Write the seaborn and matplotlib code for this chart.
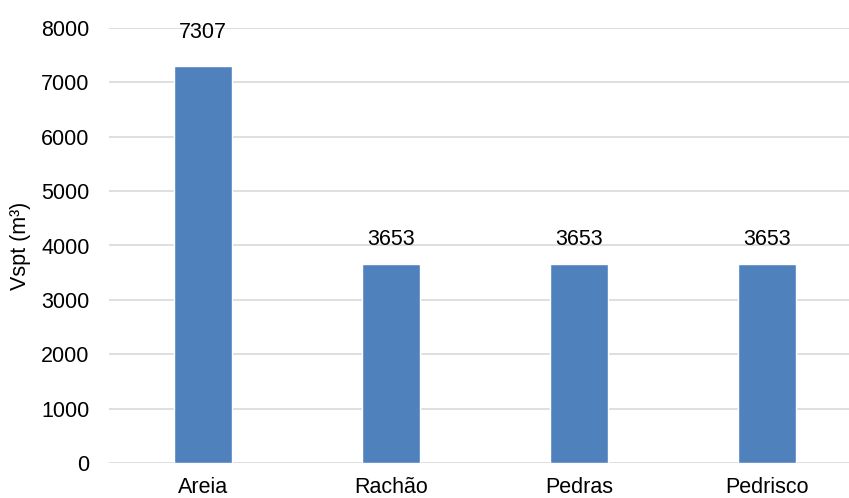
import matplotlib
matplotlib.use("Agg")
import matplotlib.pyplot as plt
import seaborn as sns
import pandas as pd

categories = ["Areia", "Rachão", "Pedras", "Pedrisco"]
values = [7307, 3653, 3653, 3653]
yticks = [0, 1000, 2000, 3000, 4000, 5000, 6000, 7000, 8000]

df = pd.DataFrame({"material": categories, "vspt": values})

sns.set_theme(style="white")
plt.rcParams["font.family"] = ["Liberation Sans", "DejaVu Sans"]

fig = plt.figure(figsize=(8.49, 4.98), dpi=100)
ax = fig.add_axes([109 / 849, 1 - 463 / 498, 752 / 849, 435 / 498])

sns.barplot(data=df, x="material", y="vspt", color="#4F81BD", saturation=1,
            width=0.31, ax=ax, zorder=3)

ax.set_xlim(-0.5, 3.5)
ax.set_ylim(0, 8000)
ax.set_yticks(yticks)
ax.yaxis.grid(True, color="#d9d9d9", linewidth=1.2, zorder=0)
ax.set_axisbelow(True)
for s in ax.spines.values():
    s.set_visible(False)
ax.tick_params(axis="both", length=0, labelsize=15.5, colors="black")
ax.tick_params(axis="y", pad=14)
ax.tick_params(axis="x", pad=10)
ax.set_xlabel("")
ax.set_ylabel("Vspt (m³)", fontsize=15.5, color="black")
ax.yaxis.label.set_verticalalignment("center")
ax.yaxis.set_label_coords(-89 / 752, 0.5)

# value labels above the bars
offsets = [16, 10, 10, 10]
for i, (v, off) in enumerate(zip(values, offsets)):
    ax.annotate(f"{v}", (i, v), xytext=(0, off), textcoords="offset points",
                ha="center", va="bottom", fontsize=15.5, color="black")

fig.savefig("out.png", dpi=100)
